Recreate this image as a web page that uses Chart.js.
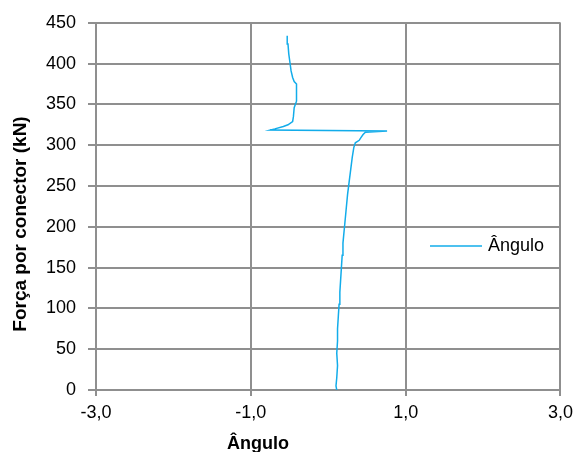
<!DOCTYPE html>
<html>
<head>
<meta charset="utf-8">
<script src="https://cdn.jsdelivr.net/npm/chart.js@4.4.1/dist/chart.umd.min.js"></script>
<style>
  html, body { margin: 0; padding: 0; background: #ffffff; }
  #wrap { width: 579px; height: 452px; }
</style>
</head>
<body>
<div id="wrap"><canvas id="chart" width="579" height="452"></canvas></div>
<script>
// Ângulo vs força por conector
const seriesLabel = 'Ângulo';
const angulo = [0.11, 0.10, 0.11, 0.12, 0.11, 0.12, 0.12, 0.13, 0.14, 0.15, 0.16, 0.17,
    0.18, 0.19, 0.21, 0.23, 0.25, 0.27, 0.29, 0.31, 0.33, 0.35, 0.40, 0.42, 0.45, 0.48,
    0.76, -0.75, -0.69, -0.58, -0.52, -0.46, -0.45, -0.44, -0.41, -0.41, -0.41, -0.44,
    -0.46, -0.48, -0.50, -0.51, -0.52, -0.53];
const forca = [0, 5, 15, 30, 45, 60, 75, 90, 105, 120, 135, 150,
    165, 180, 200, 220, 240, 255, 270, 285, 297, 303, 306, 309, 313, 316,
    317.5, 318.5, 320, 323, 325, 329, 335, 346, 354, 365, 375, 378,
    383, 391, 405, 412, 424, 434];
const xTicks = [-3, -1, 1, 3];
const yTicks = [0, 50, 100, 150, 200, 250, 300, 350, 400, 450];

const FONT = "'Liberation Sans', Arial, sans-serif";
const LINE_COLOR = '#12acea';
const GRID_COLOR = '#8f8f8f';

const points = angulo.map((a, i) => ({ x: a, y: forca[i] }));

// axis titles and the legend are placed by hand, like the Excel original
const overlay = {
    id: 'overlay',
    afterDraw(chart) {
        const ctx = chart.ctx;
        ctx.save();
        ctx.fillStyle = '#000000';
        ctx.textAlign = 'center';
        ctx.textBaseline = 'middle';

        ctx.font = `bold 18px ${FONT}`;
        ctx.fillText('Ângulo', 258, 444);

        ctx.font = `bold 19px ${FONT}`;
        ctx.translate(21, 224);
        ctx.rotate(-Math.PI / 2);
        ctx.fillText('Força por conector (kN)', 0, 0);
        ctx.restore();

        // legend
        ctx.save();
        ctx.strokeStyle = LINE_COLOR;
        ctx.lineWidth = 1.5;
        ctx.beginPath();
        ctx.moveTo(430, 246);
        ctx.lineTo(482, 246);
        ctx.stroke();
        ctx.fillStyle = '#000000';
        ctx.font = `18px ${FONT}`;
        ctx.textAlign = 'left';
        ctx.textBaseline = 'middle';
        ctx.fillText(chart.data.datasets[0].label, 488, 246);
        ctx.restore();
    }
};

const ctx = document.getElementById('chart').getContext('2d');
new Chart(ctx, {
    type: 'scatter',
    data: {
        datasets: [{
            label: seriesLabel,
            data: points,
            showLine: true,
            borderColor: LINE_COLOR,
            backgroundColor: LINE_COLOR,
            borderWidth: 1.5,
            pointRadius: 0,
            tension: 0
        }]
    },
    options: {
        responsive: false,
        animation: false,
        layout: { padding: { top: 22, right: 14, left: 0, bottom: 0 } },
        plugins: {
            legend: { display: false },
            tooltip: { enabled: false }
        },
        scales: {
            x: {
                type: 'linear',
                min: -3,
                max: 3,
                afterBuildTicks: (scale) => { scale.ticks = xTicks.map(v => ({ value: v })); },
                afterFit: (scale) => { scale.height = 62; },
                grid: { color: GRID_COLOR, lineWidth: 2, tickLength: 6 },
                border: { color: GRID_COLOR, width: 2 },
                ticks: {
                    color: '#000000',
                    font: { family: FONT, size: 18 },
                    padding: 6,
                    maxRotation: 0,
                    callback: (v) => v.toFixed(1).replace('.', ',')
                }
            },
            y: {
                type: 'linear',
                min: 0,
                max: 450,
                afterBuildTicks: (scale) => { scale.ticks = yTicks.map(v => ({ value: v })); },
                afterFit: (scale) => { scale.width = 96; },
                grid: { color: GRID_COLOR, lineWidth: 2, tickLength: 8 },
                border: { color: GRID_COLOR, width: 2 },
                ticks: {
                    color: '#000000',
                    font: { family: FONT, size: 18 },
                    padding: 12
                }
            }
        }
    },
    plugins: [overlay]
});
</script>
</body>
</html>
